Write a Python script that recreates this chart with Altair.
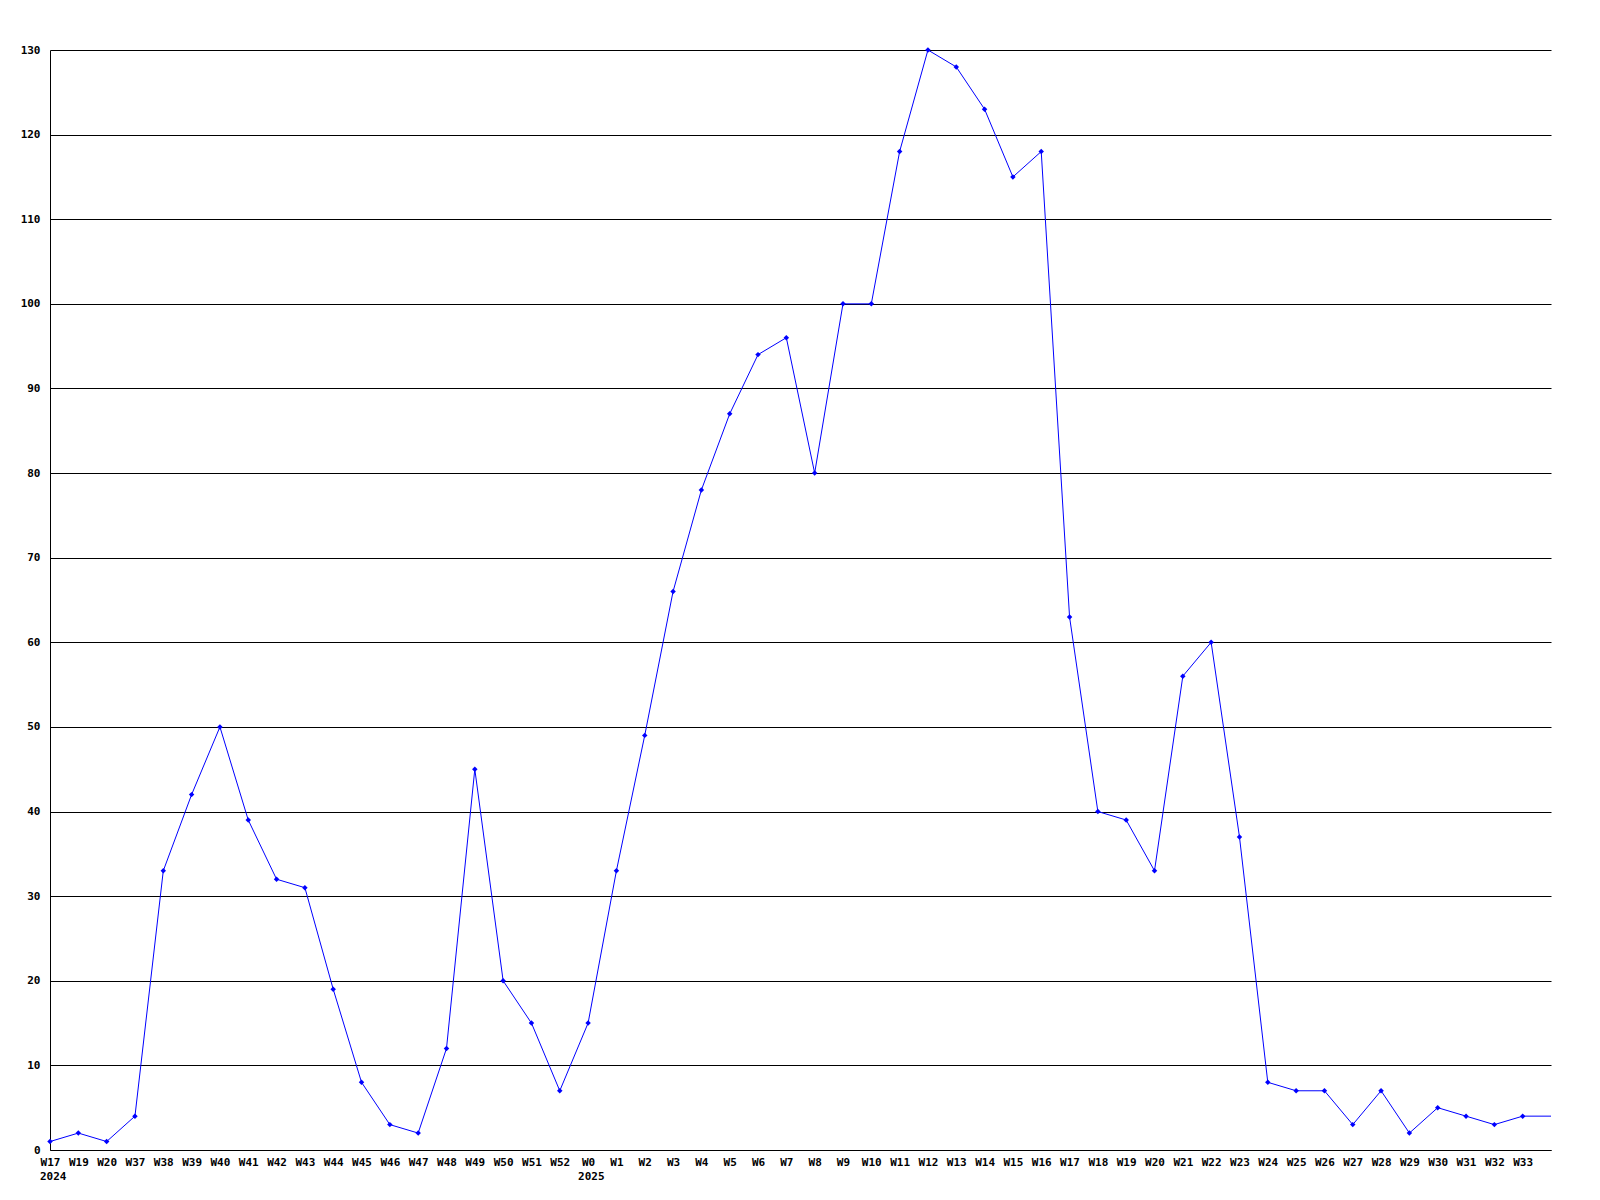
import altair as alt
import pandas as pd

labels = ["W17", "W19", "W20", "W37", "W38", "W39", "W40", "W41", "W42", "W43",
          "W44", "W45", "W46", "W47", "W48", "W49", "W50", "W51", "W52",
          "W0", "W1", "W2", "W3", "W4", "W5", "W6", "W7", "W8", "W9", "W10",
          "W11", "W12", "W13", "W14", "W15", "W16", "W17", "W18", "W19", "W20",
          "W21", "W22", "W23", "W24", "W25", "W26", "W27", "W28", "W29", "W30",
          "W31", "W32", "W33", ""]
values = [1, 2, 1, 4, 33, 42, 50, 39, 32, 31,
          19, 8, 3, 2, 12, 45, 20, 15, 7,
          15, 33, 49, 66, 78, 87, 94, 96, 80, 100, 100,
          118, 130, 128, 123, 115, 118, 63, 40, 39, 33,
          56, 60, 37, 8, 7, 7, 3, 7, 2, 5,
          4, 3, 4, 4]
years = ["2024", "2025"]
year_pos = [0, 19]

n = len(labels)
df = pd.DataFrame({"idx": list(range(n)), "label": labels, "value": values,
                   "marker": [l != "" for l in labels]})
ydf = pd.DataFrame({"idx": year_pos, "year": years})

FONT = "DejaVu Sans Mono"
label_arr = "[" + ",".join(f"'{l}'" for l in labels) + "]"

x = alt.X("idx:Q", scale=alt.Scale(domain=[0, n - 1], nice=False, zero=False),
          axis=alt.Axis(values=list(range(n - 1)), labelExpr=f"{label_arr}[datum.value]",
                        grid=False, ticks=False, domain=True, domainColor="black",
                        labelFont=FONT, labelFontWeight="bold", labelFontSize=11,
                        labelColor="black", labelPadding=6, labelFlush=False,
                        labelOverlap=False, labelBound=False, title=None))
y = alt.Y("value:Q", scale=alt.Scale(domain=[0, 130], nice=False),
          axis=alt.Axis(values=list(range(0, 131, 10)), grid=True, gridColor="black",
                        gridOpacity=1, gridWidth=1, ticks=False, domain=True,
                        domainColor="black", labelFont=FONT, labelFontWeight="bold",
                        labelFontSize=11, labelColor="black", labelPadding=10,
                        title=None))

line = alt.Chart(df).mark_line(color="#0000ff", strokeWidth=1).encode(x=x, y=y)
pts = alt.Chart(df).transform_filter("datum.marker").mark_point(
    shape="diamond", filled=True, color="#0000ff", size=30, opacity=1).encode(x=x, y=y)
yr = alt.Chart(ydf).mark_text(font=FONT, fontWeight="bold", fontSize=11, color="black",
                              align="left", baseline="top", dx=-10).encode(
    x=x, y=alt.value(1121), text=alt.Text("year:N"))

chart = alt.layer(line, pts, yr).properties(
    width=1501, height=1100,
    padding={"left": 12, "top": 36, "right": 5, "bottom": 5},
    background="white",
).configure_view(stroke=None, strokeWidth=0)

chart.save("out.html", embed_options={"renderer": "svg", "actions": False})
